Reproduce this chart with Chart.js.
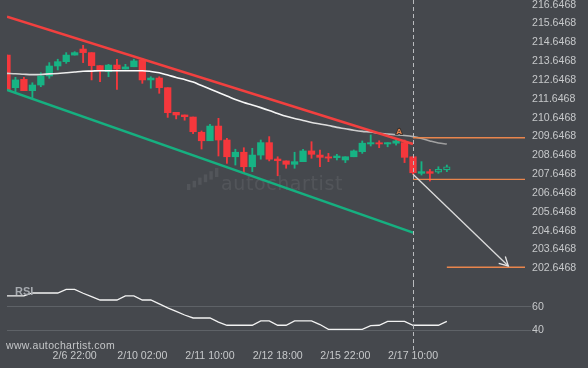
<!DOCTYPE html>
<html><head><meta charset="utf-8">
<script src="https://cdn.jsdelivr.net/npm/chart.js@4.4.1/dist/chart.umd.min.js"></script>
<style>
html,body{margin:0;padding:0;background:#45484d;width:588px;height:368px;overflow:hidden;}
#p{position:absolute;left:0;top:0;}
#r{position:absolute;left:0;top:283px;}
.t{position:absolute;font-family:"Liberation Sans",Arial,sans-serif;white-space:nowrap;line-height:1.15;}
</style></head><body>
<canvas id="p" width="588" height="283"></canvas>
<canvas id="r" width="588" height="85"></canvas>
<div class="t" style="left:15px;top:285px;font-size:11px;font-weight:bold;color:#a7abb0">RSI</div>
<div class="t" style="left:6px;top:339px;font-size:10.5px;color:#c4c6c8;letter-spacing:0.35px">www.autochartist.com</div>
<script>
// ---- data ----
const opens  = [213.97,212.24,212.68,212.08,212.38,212.86,213.39,213.62,213.97,214.29,214.10,213.41,213.09,213.44,213.23,213.35,213.71,212.65,212.75,212.24,210.93,210.79,210.68,209.87,209.42,210.20,209.46,208.57,208.81,208.04,208.66,209.32,208.45,208.35,208.17,208.31,208.88,208.66,208.54,208.52,208.40,208.57,208.84,209.25,209.29,209.25,209.29,209.32,208.57,207.69,207.78,207.75,207.87];
const highs  = [213.97,212.79,212.79,212.50,213.03,213.57,213.75,214.10,214.15,214.49,214.10,213.41,213.48,213.75,213.48,213.75,213.80,212.82,212.82,212.24,210.93,210.79,210.68,209.94,210.29,210.61,209.55,208.97,209.05,209.02,209.46,209.64,208.57,208.35,208.81,208.97,209.37,208.93,208.75,208.70,208.57,208.93,209.41,209.73,209.42,209.32,209.55,209.46,208.57,208.31,207.90,208.04,208.13];
const lows   = [212.12,212.03,212.08,211.68,212.29,212.74,213.18,213.53,213.97,213.57,212.65,212.56,212.82,212.15,213.23,213.35,212.47,212.21,211.94,210.66,210.58,210.51,209.80,208.98,209.42,208.61,208.22,208.13,207.69,207.78,208.44,208.35,207.56,207.96,207.96,208.31,208.49,208.04,208.31,208.40,208.26,208.57,208.75,209.14,209.05,209.10,209.19,208.26,207.64,207.60,207.28,207.69,207.78];
const closes = [212.12,212.65,212.08,212.38,212.86,213.39,213.62,213.97,214.10,214.10,213.41,213.14,213.44,213.23,213.34,213.66,212.65,212.75,212.24,210.91,210.79,210.70,209.90,209.42,210.20,209.46,208.57,208.81,208.04,208.66,209.32,208.44,208.36,208.17,208.31,208.88,208.70,208.54,208.50,208.61,208.57,208.88,209.29,209.32,209.25,209.32,209.41,208.54,207.72,207.78,207.69,207.90,208.04];
const maValues = [213.00,212.98,212.95,212.93,212.94,212.97,212.99,213.03,213.07,213.11,213.12,213.14,213.14,213.14,213.14,213.14,213.14,213.10,213.03,212.91,212.78,212.67,212.54,212.35,212.17,211.98,211.80,211.61,211.45,211.32,211.18,211.03,210.87,210.72,210.60,210.50,210.39,210.31,210.23,210.13,210.06,209.98,209.92,209.89,209.82,209.78,209.74,209.70,209.64,209.54,209.41,209.30,209.25];
const rsiValues = [69,69,69,71.5,71.5,71.5,71.5,74.6,74.6,71.3,68.4,65.6,65.6,65.6,69,69,65.6,65.6,62.3,59,56,53,50.5,50.5,50.5,47,44.4,44.4,44.4,44.4,48,48,44.4,44.4,48,48,48,45,41,41,41,41,41,44,44.4,47.6,47.6,47.6,44.4,44.4,44.4,44.4,47.6];
const channelIdx = [0, 48];
const resistanceLine = [216.01, 209.25];
const supportLine = [212.12, 204.54];
const forecastIdx = [48, 59.27];
const forecastVal = [207.64, 202.77];
const levelValues = [209.58, 207.37, 202.70];
const levelStart = [48, 48, 52];
const patternIdx = [46.37];
const patternVal = [209.87];
const patternText = ['A'];
const priceTicks = [202.6468,203.6468,204.6468,205.6468,206.6468,207.6468,208.6468,209.6468,210.6468,211.6468,212.6468,213.6468,214.6468,215.6468,216.6468];
const rsiTicks = [40, 60];
const timeLabelIdx = [8, 16, 24, 32, 40, 48];
const timeLabels = ['2/6 22:00','2/10 02:00','2/11 10:00','2/12 18:00','2/15 22:00','2/17 10:00'];
const currentIdx = 48;
const liveFrom = 51;

// ---- view ----
const X_MIN = 0, X_MAX = 61.24;
const P_MIN = 201.866, P_MAX = 216.895;
const R_MIN = 23.6, R_MAX = 79.9;
const BG = '#45484d', UP = '#17b384', DOWN = '#f5373c', ORANGE = '#e9854d';
const FONT = "'Liberation Sans', Arial, sans-serif";
const TICK = '#c6c8ca';

const idx = opens.map((_, i) => i);
const isUp = idx.map(i => closes[i] >= opens[i]);

function zeroPad(s){ s.paddingTop = 0; s.paddingBottom = 0; s.paddingLeft = 0; s.paddingRight = 0; }

const vline = {
  id: 'vline',
  afterDatasetsDraw(chart){
    const c = chart.ctx, a = chart.chartArea;
    const x = Math.round(chart.scales.x.getPixelForValue(currentIdx)) + 0.5;
    c.save();
    c.strokeStyle = '#b9bbbe'; c.lineWidth = 1; c.setLineDash([4, 3]);
    c.beginPath(); c.moveTo(x, a.top); c.lineTo(x, a.bottom); c.stroke();
    c.restore();
  }
};

const watermark = {
  id: 'wm',
  beforeDatasetsDraw(chart){
    const c = chart.ctx;
    c.save();
    c.fillStyle = 'rgba(255,255,255,0.075)';
    for (let k = 0; k < 6; k++) {
      const bx = 187 + k * 5.6, bottom = 190 - k * 2.6, top = 184 - k * 3.2;
      c.fillRect(bx, top, 3.4, bottom - top);
    }
    c.font = "19px 'DejaVu Sans'";
    c.textBaseline = 'alphabetic';
    if ('letterSpacing' in c) c.letterSpacing = '0.6px';
    c.fillText('autochartist', 221, 190);
    c.restore();
  }
};

const extras = {
  id: 'extras',
  afterDatasetsDraw(chart){
    const c = chart.ctx, xs = chart.scales.x, ys = chart.scales.y;
    c.save();
    const x1 = xs.getPixelForValue(forecastIdx[0]), y1 = ys.getPixelForValue(forecastVal[0]);
    const x2 = xs.getPixelForValue(forecastIdx[1]), y2 = ys.getPixelForValue(forecastVal[1]);
    const ang = Math.atan2(y2 - y1, x2 - x1), L = 10, sp = 0.5;
    c.strokeStyle = '#e6e6e6'; c.lineWidth = 1.3;
    c.beginPath();
    c.moveTo(x2 - L * Math.cos(ang - sp), y2 - L * Math.sin(ang - sp));
    c.lineTo(x2, y2);
    c.lineTo(x2 - L * Math.cos(ang + sp), y2 - L * Math.sin(ang + sp));
    c.stroke();
    c.font = "bold 8px " + FONT;
    c.textAlign = 'center'; c.textBaseline = 'middle';
    patternText.forEach((t, i) => {
      const px = xs.getPixelForValue(patternIdx[i]), py = ys.getPixelForValue(patternVal[i]);
      c.lineWidth = 2; c.strokeStyle = 'rgba(60,50,45,0.9)'; c.strokeText(t, px, py);
      c.fillStyle = ORANGE; c.fillText(t, px, py);
    });
    c.restore();
  }
};

const maGradient = (ctx) => {
  const ch = ctx.chart, a = ch.chartArea;
  if (!a) return '#ffffff';
  const g = ch.ctx.createLinearGradient(a.left, 0, ch.scales.x.getPixelForValue(idx.length - 1), 0);
  g.addColorStop(0, '#cfcfcf'); g.addColorStop(0.22, '#ffffff'); g.addColorStop(0.62, '#f4f4f4'); g.addColorStop(1, '#9c9c9c');
  return g;
};

const priceDatasets = [
  { type: 'line', label: 'forecast', order: 0, data: forecastIdx.map((x, i) => ({x, y: forecastVal[i]})),
    borderColor: '#dcdcdc', borderWidth: 1.3, pointRadius: 0, tension: 0 },
  ...levelValues.map((v, i) => ({ type: 'line', label: 'level' + i, order: 1,
    data: [{x: levelStart[i], y: v}, {x: X_MAX, y: v}],
    borderColor: ORANGE, borderWidth: 1.4, pointRadius: 0, tension: 0 })),
  { type: 'line', label: 'resistance', order: 2, data: channelIdx.map((x, i) => ({x, y: resistanceLine[i]})),
    borderColor: '#f2403f', borderWidth: 2.6, pointRadius: 0, tension: 0 },
  { type: 'line', label: 'support', order: 2, data: channelIdx.map((x, i) => ({x, y: supportLine[i]})),
    borderColor: '#16b080', borderWidth: 2.6, pointRadius: 0, tension: 0 },
  { type: 'line', label: 'ma', order: 3, data: idx.map(i => ({x: i, y: maValues[i]})),
    borderColor: maGradient, borderWidth: 1.6, pointRadius: 0, cubicInterpolationMode: 'monotone' },
  { type: 'bar', label: 'body', order: 4, data: idx.map(i => ({x: i, y: [opens[i], closes[i]]})),
    backgroundColor: idx.map(i => i >= liveFrom ? BG : (isUp[i] ? UP : DOWN)),
    borderColor: idx.map(i => isUp[i] ? UP : DOWN),
    borderWidth: idx.map(i => i >= liveFrom ? 1.2 : 0),
    borderSkipped: false, barThickness: 6.6, grouped: false, minBarLength: 1.2 },
  { type: 'bar', label: 'wick', order: 5, data: idx.map(i => ({x: i, y: [lows[i], highs[i]]})),
    backgroundColor: idx.map(i => isUp[i] ? UP : DOWN),
    borderWidth: 0, barThickness: 1.2, grouped: false }
];

new Chart(document.getElementById('p'), {
  type: 'bar',
  data: { datasets: priceDatasets },
  options: {
    responsive: false, animation: false, events: [],
    layout: { padding: { left: 7, right: 0, top: 0, bottom: 0 } },
    plugins: { legend: { display: false }, tooltip: { enabled: false } },
    scales: {
      x: { type: 'linear', min: X_MIN, max: X_MAX, display: false, offset: false },
      y: { type: 'linear', position: 'right', min: P_MIN, max: P_MAX,
        grid: { display: false, drawTicks: false }, border: { display: false },
        afterBuildTicks: s => { s.ticks = priceTicks.map(v => ({value: v})); },
        afterFit: s => { s.width = 63; zeroPad(s); },
        ticks: { color: TICK, padding: 7, font: { family: FONT, size: 10.6 }, callback: v => Number(v).toFixed(4) } }
    }
  },
  plugins: [watermark, extras, vline]
});

new Chart(document.getElementById('r'), {
  type: 'line',
  data: { datasets: [
    { label: 'RSI', data: idx.map(i => ({x: i, y: rsiValues[i]})), borderColor: '#f2f2f2', borderWidth: 1.3, pointRadius: 0, tension: 0 }
  ] },
  options: {
    responsive: false, animation: false, events: [],
    layout: { padding: { left: 7, right: 0, top: 0, bottom: 0 } },
    plugins: { legend: { display: false }, tooltip: { enabled: false } },
    scales: {
      x: { type: 'linear', min: X_MIN, max: X_MAX, position: 'bottom', offset: false,
        grid: { display: false, drawTicks: false }, border: { display: false },
        afterBuildTicks: s => { s.ticks = timeLabelIdx.map(v => ({value: v})); },
        afterFit: s => { s.height = 18; zeroPad(s); },
        ticks: { color: TICK, padding: 0, autoSkip: false, maxRotation: 0, font: { family: FONT, size: 10.6 },
          callback: v => { const k = timeLabelIdx.indexOf(v); return k >= 0 ? timeLabels[k] : ''; } } },
      y: { type: 'linear', position: 'right', min: R_MIN, max: R_MAX,
        grid: { color: '#5e6267', lineWidth: 1, drawTicks: true, tickLength: 6 }, border: { display: false },
        afterBuildTicks: s => { s.ticks = rsiTicks.map(v => ({value: v})); },
        afterFit: s => { s.width = 63; zeroPad(s); },
        ticks: { color: TICK, padding: 1, font: { family: FONT, size: 10.6 } } }
    }
  },
  plugins: [vline]
});
</script>
</body></html>
